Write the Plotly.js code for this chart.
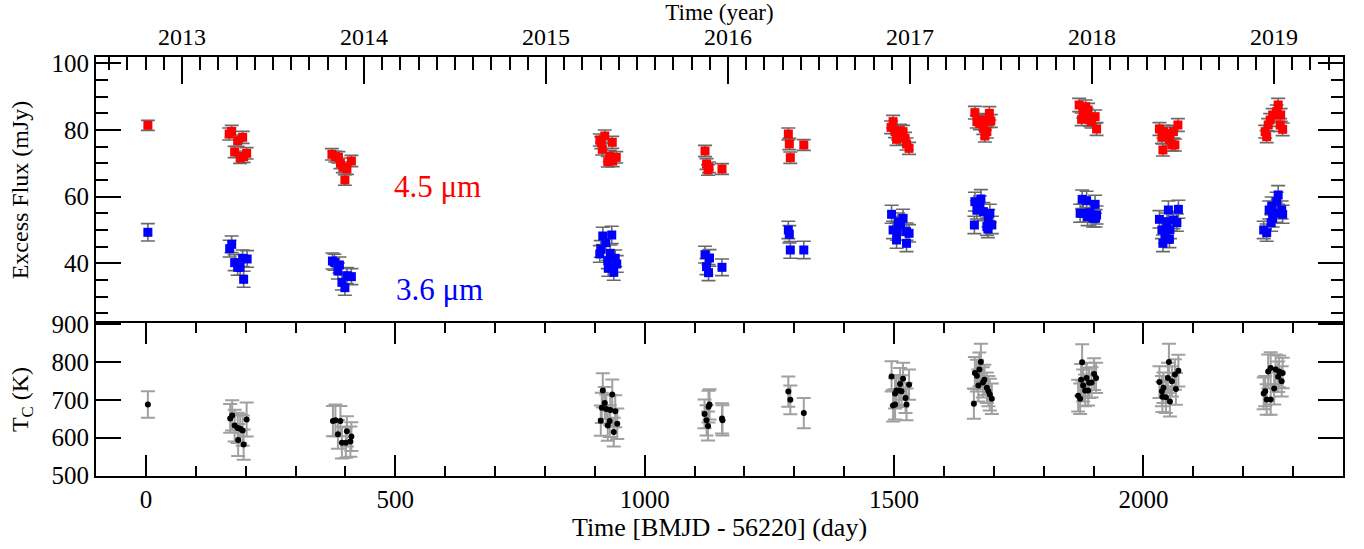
<!DOCTYPE html>
<html>
<head>
<meta charset="utf-8">
<script src="https://cdn.plot.ly/plotly-3.0.1.min.js"></script>
<style>html,body{margin:0;padding:0;background:#fff;}</style>
</head>
<body>
<div id="chart" style="width:1364px;height:549px;"></div>
<script>
// ---- 4.5 micron excess flux (mJy) ----
const dayRed = [4,
  167, 172, 184, 194, 178, 189, 196, 202,
  373, 380, 386, 390, 395, 403, 412, 399,
  920, 913, 915, 935, 930, 943, 926, 936, 910,
  1121, 1124, 1129, 1127, 1155,
  1288, 1290, 1292, 1319,
  1498, 1494, 1502, 1512, 1518, 1505, 1522, 1525, 1530, 1508,
  1662, 1691, 1666, 1676, 1686, 1694, 1679, 1686, 1682, 1672,
  1871, 1884, 1879, 1889, 1876, 1893, 1903, 1896, 1906, 1886,
  2032, 2040, 2037, 2053, 2060, 2069, 2052, 2057, 2063, 2039,
  2270, 2267, 2259, 2275, 2254, 2250, 2274, 2244, 2279, 2247];
const fluxRed = [81.4,
  78.8, 79.6, 76.8, 77.8, 73.4, 71.6, 72.0, 73.0,
  72.7, 72.0, 71.8, 70.0, 68.8, 68.3, 70.7, 65.0,
  78.2, 76.2, 74.2, 76.3, 72.2, 71.8, 70.5, 70.7, 77.0,
  73.7, 69.8, 68.8, 68.0, 68.3,
  78.8, 75.8, 71.7, 75.5,
  82.5, 80.8, 79.5, 79.8, 79.5, 77.2, 77.5, 75.8, 74.5, 79.0,
  85.2, 85.0, 82.5, 83.0, 82.7, 82.7, 80.5, 79.5, 78.2, 82.0,
  87.5, 87.0, 85.5, 86.0, 83.2, 83.0, 84.0, 82.5, 80.3, 84.5,
  80.3, 79.5, 77.8, 79.0, 79.5, 81.5, 77.0, 75.5, 75.5, 74.0,
  87.5, 85.5, 84.5, 84.5, 83.0, 81.5, 81.5, 79.5, 80.2, 78.0];
const errRed = [1.5,
  1.8, 1.8, 1.7, 1.8, 1.7, 1.6, 1.7, 1.7,
  1.7, 1.6, 1.7, 1.6, 1.6, 1.6, 1.7, 1.6,
  1.8, 1.8, 1.7, 1.8, 1.7, 1.7, 1.6, 1.7, 1.8,
  1.7, 1.6, 1.6, 1.6, 1.6,
  1.8, 1.7, 1.7, 1.6,
  1.9, 1.9, 1.8, 1.9, 1.9, 1.8, 1.8, 1.8, 1.8, 1.9,
  1.9, 2.0, 1.9, 1.9, 1.9, 1.9, 1.8, 1.9, 1.8, 1.9,
  2.0, 2.0, 1.9, 2.0, 1.9, 1.9, 2.0, 1.9, 1.9, 1.9,
  1.9, 1.9, 1.8, 1.9, 1.9, 1.9, 1.8, 1.8, 1.8, 1.8,
  2.0, 2.0, 1.9, 1.9, 1.9, 1.9, 1.9, 1.9, 1.9, 1.8];

// ---- 3.6 micron excess flux (mJy) ----
const dayBlue = [4,
  172, 168, 178, 184, 189, 194, 203, 196,
  374, 378, 388, 385, 393, 399, 403, 412,
  916, 934, 922, 912, 910, 931, 941, 926, 944, 927, 938,
  1121, 1130, 1124, 1128, 1155,
  1288, 1290, 1292, 1319,
  1495, 1518, 1508, 1513, 1498, 1506, 1525, 1530, 1505, 1525,
  1662, 1674, 1666, 1672, 1679, 1692, 1689, 1661, 1686, 1696, 1688,
  1877, 1886, 1903, 1873, 1879, 1893, 1906, 1888, 1899, 1904,
  2050, 2070, 2032, 2047, 2060, 2067, 2037, 2053, 2043, 2052, 2039,
  2270, 2267, 2257, 2252, 2277, 2264, 2279, 2259, 2256, 2241, 2247];
const fluxBlue = [49.3,
  45.7, 44.4, 40.2, 38.8, 38.8, 41.5, 41.3, 35.2,
  40.7, 40.3, 39.5, 37.7, 34.3, 32.7, 36.3, 36.0,
  48.2, 48.5, 46.2, 44.3, 42.8, 43.0, 41.5, 40.8, 39.8, 38.5, 37.3,
  42.6, 41.6, 39.0, 37.2, 38.8,
  50.0, 48.7, 44.0, 44.0,
  54.7, 53.5, 52.5, 51.5, 50.0, 49.5, 49.5, 49.0, 47.0, 46.0,
  58.5, 59.3, 56.0, 57.5, 55.5, 55.0, 53.5, 51.5, 51.0, 51.5, 50.3,
  59.2, 58.8, 57.7, 55.0, 55.0, 55.2, 54.5, 54.0, 53.5, 53.5,
  56.0, 56.2, 53.2, 52.5, 53.0, 52.2, 50.0, 50.0, 48.5, 47.2, 46.0,
  60.5, 58.5, 57.2, 56.0, 56.0, 55.0, 54.7, 53.5, 52.2, 50.0, 49.2];
const errBlue = [2.6,
  2.5, 2.5, 2.4, 2.4, 2.4, 2.5, 2.5, 2.4,
  2.4, 2.4, 2.4, 2.4, 2.3, 2.3, 2.4, 2.4,
  2.6, 2.6, 2.5, 2.5, 2.5, 2.5, 2.5, 2.4, 2.5, 2.4, 2.4,
  2.5, 2.5, 2.4, 2.4, 2.5,
  2.6, 2.6, 2.5, 2.6,
  2.7, 2.7, 2.6, 2.6, 2.6, 2.6, 2.6, 2.6, 2.5, 2.5,
  2.8, 2.8, 2.7, 2.7, 2.7, 2.7, 2.6, 2.6, 2.6, 2.6, 2.6,
  2.8, 2.8, 2.7, 2.7, 2.7, 2.7, 2.7, 2.7, 2.6, 2.6,
  2.7, 2.7, 2.6, 2.6, 2.6, 2.6, 2.6, 2.6, 2.5, 2.5, 2.5,
  2.8, 2.8, 2.7, 2.7, 2.7, 2.7, 2.7, 2.6, 2.6, 2.6, 2.6];

// ---- colour temperature T_C (K) ----
const dayT = [4,
  169, 173, 178, 184, 189, 194, 202, 185, 196,
  375, 380, 390, 385, 403, 412, 393, 401, 410,
  916, 935, 920, 914, 923, 931, 941, 912, 930, 926, 945, 938,
  1130, 1128, 1120, 1124, 1127, 1155, 1156,
  1288, 1292, 1319,
  1495, 1518, 1530, 1512, 1505, 1510, 1515, 1502, 1523, 1498, 1502, 1525,
  1674, 1671, 1662, 1666, 1681, 1678, 1669, 1686, 1689, 1692, 1696, 1660,
  1877, 1875, 1886, 1901, 1905, 1896, 1879, 1891, 1883, 1889, 1869, 1873,
  2051, 2070, 2063, 2049, 2032, 2057, 2040, 2065, 2037, 2038, 2045, 2053,
  2250, 2255, 2265, 2272, 2279, 2270, 2277, 2262, 2244, 2241, 2247, 2255];
const tempT = [688,
  651, 659, 632, 626, 624, 619, 648, 594, 582,
  644, 646, 644, 609, 617, 603, 587, 587, 590,
  725, 714, 692, 679, 676, 673, 670, 645, 644, 632, 637, 615,
  688, 682, 663, 646, 631, 651, 646,
  722, 700, 665,
  762, 756, 740, 742, 725, 725, 723, 717, 705, 685, 688, 688,
  800, 780, 771, 764, 753, 746, 738, 732, 723, 714, 703, 690,
  799, 753, 758, 768, 758, 746, 738, 745, 725, 725, 711, 703,
  800, 777, 767, 758, 747, 749, 732, 729, 723, 708, 707, 696,
  775, 784, 780, 775, 771, 761, 749, 730, 723, 717, 701, 701];
const errT = [35,
  38, 40, 42, 40, 38, 40, 45, 42, 40,
  40, 42, 40, 38, 40, 38, 42, 40, 40,
  45, 40, 42, 40, 38, 40, 42, 40, 42, 40, 40, 38,
  40, 42, 38, 40, 38, 40, 40,
  40, 38, 40,
  40, 42, 40, 42, 40, 40, 42, 40, 40, 42, 40, 42,
  48, 45, 42, 42, 40, 40, 42, 40, 40, 42, 40, 40,
  48, 42, 40, 42, 40, 40, 42, 40, 42, 40, 42, 40,
  48, 42, 40, 40, 42, 40, 40, 42, 40, 40, 42, 40,
  45, 42, 40, 42, 40, 40, 40, 42, 40, 42, 40, 40];

// ---- axis tick labels ----
const dayTicks = [0, 500, 1000, 1500, 2000];
const yearTicks = [2013, 2014, 2015, 2016, 2017, 2018, 2019];
const fluxTicks = [40, 60, 80, 100];
const tempTicks = [500, 600, 700, 800, 900];

const FONT = 'Liberation Serif, Times New Roman, serif';

const traces = [
  {
    x: [], y: [], type: 'scatter', mode: 'markers',
    xaxis: 'x2', yaxis: 'y', showlegend: false, hoverinfo: 'skip'
  },
  {
    x: dayRed, y: fluxRed, type: 'scatter', mode: 'markers',
    xaxis: 'x', yaxis: 'y',
    marker: {symbol: 'square', size: 9, color: '#ff0000'},
    error_y: {type: 'data', array: errRed, visible: true, color: '#6a6a6a', thickness: 1.6, width: 7},
    hoverinfo: 'x+y', showlegend: false
  },
  {
    x: dayBlue, y: fluxBlue, type: 'scatter', mode: 'markers',
    xaxis: 'x', yaxis: 'y',
    marker: {symbol: 'square', size: 9, color: '#0000ff'},
    error_y: {type: 'data', array: errBlue, visible: true, color: '#6a6a6a', thickness: 1.6, width: 7},
    hoverinfo: 'x+y', showlegend: false
  },
  {
    x: dayT, y: tempT, type: 'scatter', mode: 'markers',
    xaxis: 'x', yaxis: 'y2',
    marker: {symbol: 'circle', size: 6, color: '#000000'},
    error_y: {type: 'data', array: errT, visible: true, color: '#a0a0a0', thickness: 2, width: 7},
    hoverinfo: 'x+y', showlegend: false
  }
];

const splitY = 0.3652;
const axisCommon = {
  showline: true, linecolor: '#000', linewidth: 2,
  ticks: 'inside', tickcolor: '#000', tickwidth: 2,
  showgrid: false, zeroline: false,
  tickfont: {family: FONT, size: 25, color: '#000'}
};

const layout = {
  width: 1364, height: 549,
  margin: {l: 96, r: 21, t: 57, b: 73},
  paper_bgcolor: '#fff', plot_bgcolor: 'rgba(0,0,0,0)',
  font: {family: FONT, color: '#000'},
  showlegend: false,
  xaxis: Object.assign({}, axisCommon, {
    anchor: 'y2', domain: [0, 1], range: [-100, 2400],
    tickmode: 'array', tickvals: dayTicks, ticktext: dayTicks.map(String),
    ticklen: 21, mirror: 'ticks',
    minor: {dtick: 100, tick0: 0, ticklen: 10, tickwidth: 2, tickcolor: '#000', ticks: 'inside', showgrid: false},
    title: {text: 'Time [BMJD - 56220] (day)', font: {family: FONT, size: 26, color: '#000'}, standoff: 5}
  }),
  xaxis2: Object.assign({}, axisCommon, {
    anchor: 'y', side: 'top', domain: [0, 1], range: [2012.527, 2019.379],
    tickmode: 'array', tickvals: yearTicks, ticktext: yearTicks.map(String),
    tickfont: {family: FONT, size: 24, color: '#000'},
    ticklen: 27,
    minor: {dtick: 0.1, tick0: 2013, ticklen: 13, tickwidth: 2, tickcolor: '#000', ticks: 'inside', showgrid: false},
    title: {text: 'Time (year)', font: {family: FONT, size: 23, color: '#000'}, standoff: 0}
  }),
  yaxis: Object.assign({}, axisCommon, {
    anchor: 'x', domain: [splitY, 1], range: [22.1, 101.9],
    tickmode: 'array', tickvals: fluxTicks, ticktext: fluxTicks.map(String),
    ticklen: 25, mirror: 'ticks',
    minor: {dtick: 5, tick0: 0, ticklen: 12, tickwidth: 2, tickcolor: '#000', ticks: 'inside', showgrid: false},
    title: {text: 'Excess Flux (mJy)', font: {family: FONT, size: 24, color: '#000'}, standoff: 16}
  }),
  yaxis2: Object.assign({}, axisCommon, {
    anchor: 'x', domain: [0, splitY], range: [499, 903],
    tickmode: 'array', tickvals: tempTicks, ticktext: tempTicks.map(String),
    ticklen: 25, mirror: 'ticks',
    title: {text: 'T<sub>C</sub> (K)', font: {family: FONT, size: 24, color: '#000'}, standoff: 16}
  }),
  annotations: [
    {x: 585, y: 62.9, xref: 'x', yref: 'y', text: '4.5 \u03bcm', showarrow: false,
     font: {family: FONT, size: 31, color: '#ff0000'}},
    {x: 588, y: 32.0, xref: 'x', yref: 'y', text: '3.6 \u03bcm', showarrow: false,
     font: {family: FONT, size: 31, color: '#0000ff'}}
  ]
};

Plotly.newPlot('chart', traces, layout, {displayModeBar: false, staticPlot: true});
</script>
</body>
</html>
